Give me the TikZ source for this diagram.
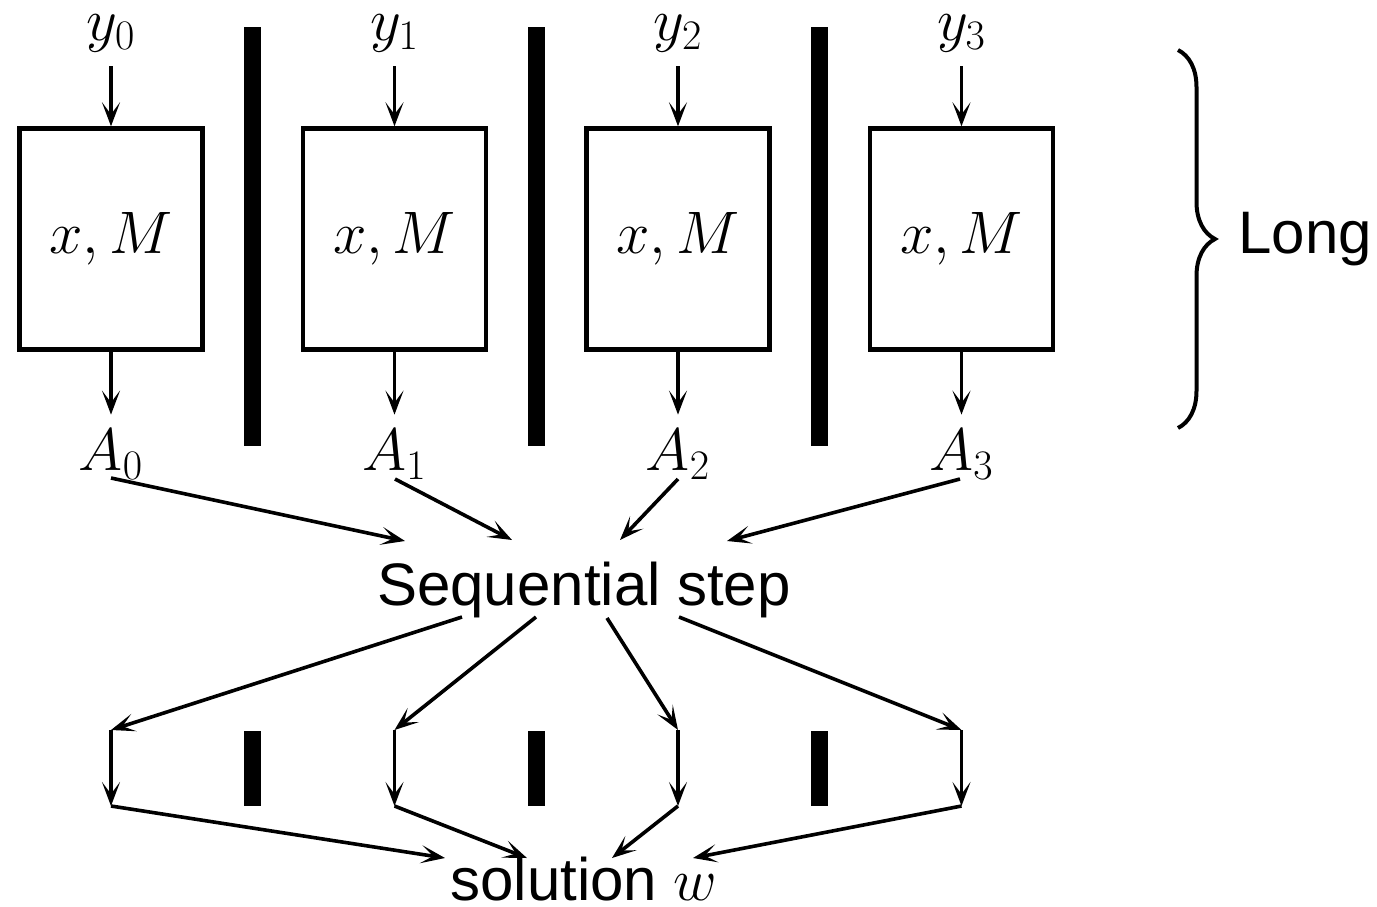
\RequirePackage{fix-cm}
\documentclass[tikz,border=0pt]{standalone}
\usepackage[no-math]{fontspec}
\newfontfamily\labelsans{Liberation Sans}
\usetikzlibrary{arrows.meta,decorations.pathreplacing}
\tikzset{
  big/.style={font=\fontsize{30}{36}\selectfont},
  procbox/.style={draw, line width=2.2pt, minimum width=91.5pt, minimum height=110.5pt, inner sep=0pt, big},
  lbl/.style={big, inner sep=7pt, anchor=base},
  txt/.style={font=\fontsize{30}{36}\selectfont\labelsans, inner sep=0pt, anchor=base},
  arr/.style={line width=1.8pt, -{Stealth[length=12pt,width=9pt,inset=6pt]}},
  wall/.style={fill=black, draw=none},
}
\begin{document}
\begin{tikzpicture}[x=0.5pt,y=-0.5pt]
\useasboundingbox (0,0) rectangle (1377,906);

% parallel workers
\foreach \i/\cx in {0/111,1/394.5,2/678,3/961.5}{
  \node[procbox] (b\i) at (\cx,239) {$x,M$};
  \node[lbl] (y\i) at (\cx,40) {$y_\i$};
  \node[lbl] (A\i) at (\cx,470) {$A_\i$};
  \draw[arr] (y\i.south) -- (b\i.north);
  \draw[arr] (b\i.south) -- (b\i.south |- A\i.north);
  % points of the lower stage
  \coordinate (t\i) at (\cx,730);
  \coordinate (u\i) at (\cx,806);
  \draw[arr] (t\i) -- (u\i);
}

% separators between the workers
\foreach \i/\cx in {0/252.75,1/536.25,2/819.75}{
  \path[wall] (\cx-8.5,27) rectangle (\cx+8.5,446);
  \path[wall] (\cx-8.5,731) rectangle (\cx+8.5,806);
}

% brace for the long phase
\draw[line width=2pt, decorate, decoration={brace, amplitude=18.5pt}] (1178,50) -- (1178,428);
\node[txt, anchor=base west] (long) at (1238,253) {Long};

% sequential step
\node[txt] (seq) at (584,605) {Sequential step};
\coordinate (si0) at (405,541);
\coordinate (si1) at (512,540);
\coordinate (si2) at (620,540);
\coordinate (si3) at (727,541);
\coordinate (a0) at (111,478);
\coordinate (a1) at (395,479);
\coordinate (a2) at (678,479);
\coordinate (a3) at (960,479);
\foreach \i in {0,...,3}{ \draw[arr] (a\i) -- (si\i); }

\coordinate (so0) at (462,617);
\coordinate (so1) at (536,617);
\coordinate (so2) at (607,618);
\coordinate (so3) at (679,617);
\foreach \i in {0,...,3}{ \draw[arr] (so\i) -- (t\i); }

% solution
\node[txt] (sol) at (584,900) {solution $w$};
\coordinate (w0) at (445,858);
\coordinate (w1) at (527,858);
\coordinate (w2) at (612,858);
\coordinate (w3) at (693,858);
\foreach \i in {0,...,3}{ \draw[arr] (u\i) -- (w\i); }
\end{tikzpicture}
\end{document}
